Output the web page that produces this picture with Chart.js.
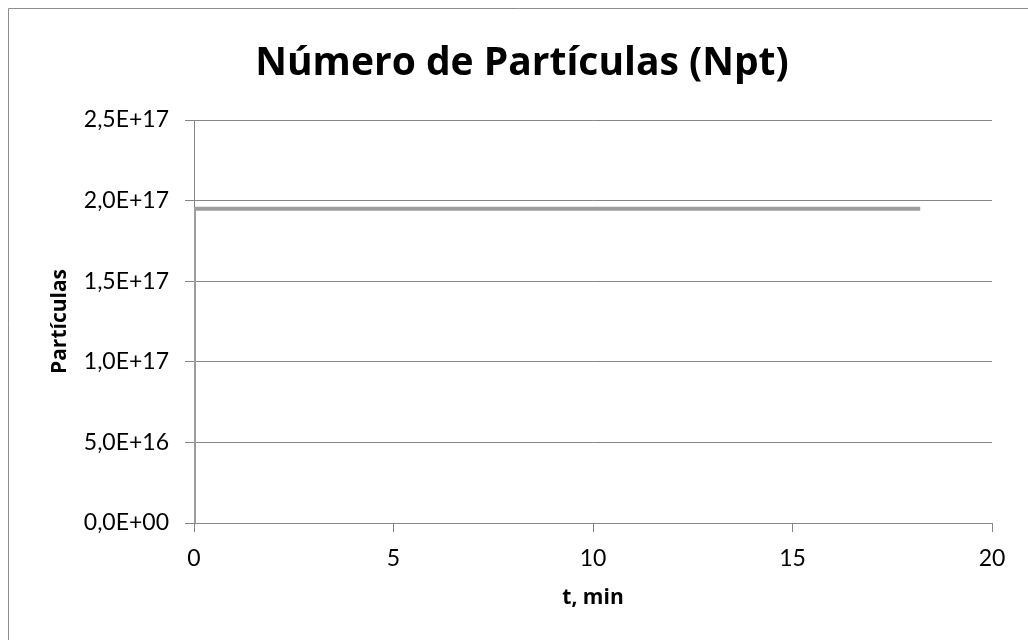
<!DOCTYPE html>
<html>
<head>
<meta charset="utf-8">
<script src="https://cdn.jsdelivr.net/npm/chart.js@4/dist/chart.umd.min.js"></script>
<style>
  html, body { margin: 0; padding: 0; background: #fff; }
  #wrap { width: 1028px; height: 640px; position: relative; }
</style>
</head>
<body>
<div id="wrap"><canvas id="c" width="1028" height="640"></canvas></div>
<script>
// Particle count over time
const chartTitle = 'Número de Partículas (Npt)';
const timeMin = [0, 0, 18.2];
const particles = [0, 1.95e17, 1.95e17];
const xTicks = [0, 5, 10, 15, 20];
const yTickLabels = ['0,0E+00', '5,0E+16', '1,0E+17', '1,5E+17', '2,0E+17', '2,5E+17'];

const FONT = 'Lato, "Liberation Sans", sans-serif';
const BOLD = '"Open Sans", Lato, sans-serif';
const GRID = '#868686';

// Frame and heading drawn around the plot
const frame = {
  id: 'frame',
  beforeDraw(chart) {
    const ctx = chart.ctx;
    ctx.save();
    ctx.fillStyle = '#fff';
    ctx.fillRect(0, 0, chart.width, chart.height);
    ctx.strokeStyle = '#8c8c8c';
    ctx.lineWidth = 1;
    ctx.beginPath();
    ctx.moveTo(8.5, chart.height + 2);
    ctx.lineTo(8.5, 8.5);
    ctx.lineTo(chart.width + 2, 8.5);
    ctx.stroke();
    ctx.fillStyle = '#000';
    ctx.font = 'bold 39px ' + BOLD;
    ctx.textAlign = 'center';
    ctx.textBaseline = 'alphabetic';
    ctx.fillText(chartTitle, 522, 75);
    ctx.restore();
  }
};

new Chart(document.getElementById('c'), {
  type: 'scatter',
  data: {
    datasets: [{
      data: timeMin.map((t, i) => ({ x: t, y: particles[i] })),
      showLine: true,
      borderColor: '#9d9d9d',
      borderWidth: 4,
      pointRadius: 0,
      tension: 0,
      fill: false
    }]
  },
  options: {
    responsive: false,
    animation: false,
    layout: { padding: { top: 120, left: 0, right: 36, bottom: 0 } },
    plugins: { legend: { display: false }, tooltip: { enabled: false } },
    scales: {
      x: {
        type: 'linear',
        min: 0, max: 20,
        afterBuildTicks: s => { s.ticks = xTicks.map(v => ({ value: v })); },
        afterFit: s => { s.height = 117; },
        grid: { display: true, drawOnChartArea: false, color: GRID, tickLength: 9, tickColor: GRID },
        border: { color: GRID, width: 1 },
        ticks: { color: '#000', font: { family: FONT, size: 23 }, padding: 13, maxRotation: 0 },
        title: { display: true, text: 't, min', color: '#000',
                 font: { family: BOLD, size: 21, weight: 'bold' }, padding: { top: 0, bottom: 29 } }
      },
      y: {
        type: 'linear',
        min: 0, max: 2.5e17,
        ticks: {
          stepSize: 5e16,
          color: '#000',
          font: { family: FONT, size: 23 },
          padding: 16,
          callback: (v, i) => yTickLabels[i]
        },
        afterFit: s => { s.width = 194; },
        grid: { color: GRID, lineWidth: 1, tickLength: 9, tickColor: GRID },
        border: { color: GRID, width: 1 },
        title: { display: true, text: 'Partículas', color: '#000',
                 font: { family: BOLD, size: 21, weight: 'bold' }, padding: { top: 47, bottom: 0 } }
      }
    }
  },
  plugins: [frame]
});
</script>
</body>
</html>
